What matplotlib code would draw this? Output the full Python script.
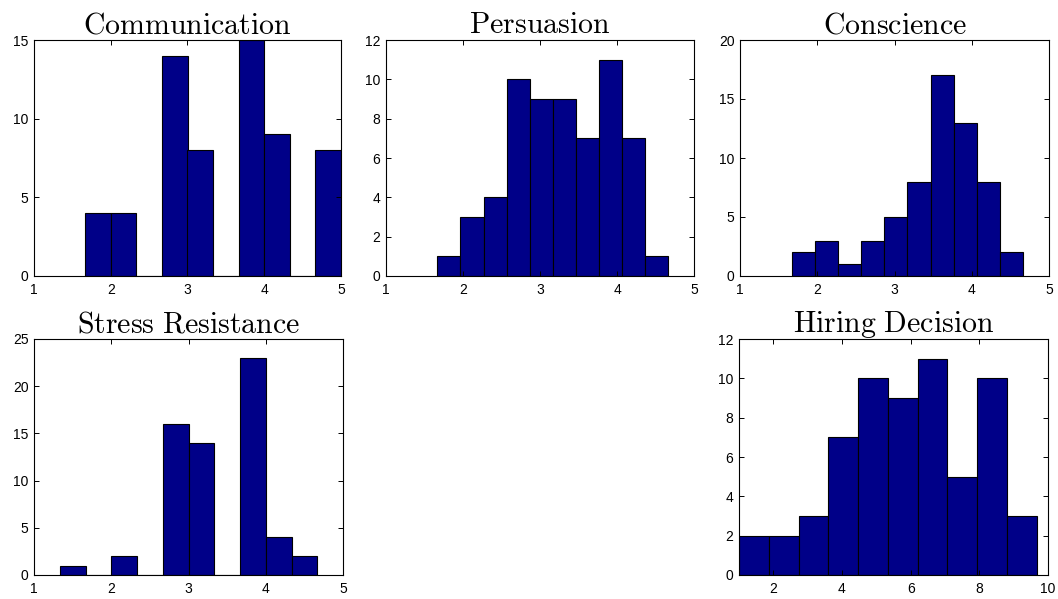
import numpy as np
import matplotlib
matplotlib.use("Agg")
import matplotlib.pyplot as plt

plt.rcParams['mathtext.fontset'] = 'cm'
plt.rcParams['font.family'] = ['Liberation Sans', 'DejaVu Sans']

# ---- data ----
titles = ["Communication", "Persuasion", "Conscience", "Stress Resistance", "Hiring Decision"]

comm_counts = [4, 4, 0, 14, 8, 0, 15, 9, 0, 8]
comm_start, comm_width = 5/3, 1/3

pers_counts = [1, 3, 4, 10, 9, 9, 7, 11, 7, 1]
pers_start, pers_width = 5/3, 0.3

cons_counts = [2, 3, 1, 3, 5, 8, 17, 13, 8, 2]
cons_start, cons_width = 5/3, 0.3

stress_counts = [1, 0, 2, 0, 16, 14, 0, 23, 4, 2]
stress_start, stress_width = 4/3, 1/3

hire_counts = [2, 2, 3, 7, 10, 9, 11, 5, 10, 3]
hire_start, hire_width = 1.0, 0.867

score_xticks = [1, 2, 3, 4, 5]
hire_xticks = [2, 4, 6, 8, 10]
comm_yticks = [0, 5, 10, 15]
pers_yticks = [0, 2, 4, 6, 8, 10, 12]
cons_yticks = [0, 5, 10, 15, 20]
stress_yticks = [0, 5, 10, 15, 20, 25]
hire_yticks = [0, 2, 4, 6, 8, 10, 12]

W, H = 1058, 599
fig = plt.figure(figsize=(W/100, H/100), dpi=100)

def axes_px(x0, x1, ytop, ybot):
    return fig.add_axes([x0/W, 1 - ybot/H, (x1-x0)/W, (ybot-ytop)/H])

panels = [
    (axes_px(34, 341, 40, 276), titles[0], comm_counts, comm_start, comm_width, (1, 5), score_xticks, comm_yticks),
    (axes_px(386, 694, 40, 276), titles[1], pers_counts, pers_start, pers_width, (1, 5), score_xticks, pers_yticks),
    (axes_px(740, 1049, 40, 276), titles[2], cons_counts, cons_start, cons_width, (1, 5), score_xticks, cons_yticks),
    (axes_px(34, 343, 339, 575), titles[3], stress_counts, stress_start, stress_width, (1, 5), score_xticks, stress_yticks),
    (axes_px(739, 1048, 339, 575), titles[4], hire_counts, hire_start, hire_width, (1, 10), hire_xticks, hire_yticks),
]

for ax, title, counts, start, width, xlim, xt, yt in panels:
    counts = np.asarray(counts)
    edges = start + width * np.arange(len(counts) + 1)
    ax.bar(edges[:-1], counts, width=np.diff(edges), align='edge',
           color='#000088', edgecolor='black', linewidth=0.8)
    ax.set_xlim(*xlim)
    ax.set_ylim(yt[0], yt[-1])
    ax.set_xticks(xt)
    ax.set_yticks(yt)
    ax.tick_params(direction='in', length=3.5, width=0.7, top=True, right=True,
                   labelsize=10, colors='black')
    ax.tick_params(axis='y', pad=4)
    ax.tick_params(axis='x', pad=5)
    for s in ax.spines.values():
        s.set_linewidth(0.8)
    t = r'$\mathrm{' + title.replace(' ', r'\ ') + '}$'
    ax.set_title(t, fontsize=21.5, pad=5)

fig.savefig("out.png", dpi=100)
